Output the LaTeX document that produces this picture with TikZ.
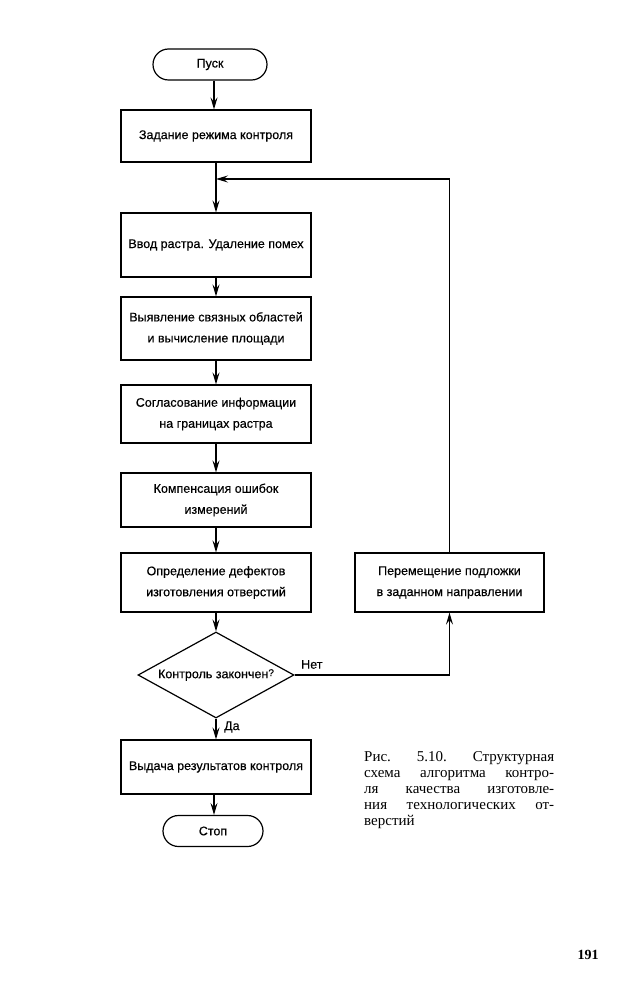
\documentclass[tikz,border=0pt]{standalone}
\usepackage{fontspec}
\setmainfont{Liberation Sans}
\newfontface\boxfont{Liberation Sans}[FakeBold=0.4]
\newfontfamily\capfont{Liberation Serif}
\usetikzlibrary{shapes.geometric,arrows.meta}
\begin{document}
\begin{tikzpicture}[x=1pt,y=-1pt,
  every node/.style={font=\boxfont\fontsize{12.5}{21}\selectfont},
  proc/.style={draw, line width=1.2pt, minimum width=190pt, align=center, inner sep=0pt},
  term/.style={draw, line width=1.2pt, rounded corners=15.5pt, minimum height=31pt, inner sep=0pt},
  decis/.style={draw, line width=1.2pt, shape=diamond, aspect=1.81, minimum width=156pt, minimum height=86pt, inner sep=0pt},
  conn/.style={line width=1.2pt},
  flow/.style={conn, -{Stealth[length=12pt,width=7pt,inset=4.5pt]}},
  lbl/.style={inner sep=0pt}]
\useasboundingbox (0,0) rectangle (640,1000);
\fill[white] (0,0) rectangle (640,1000);

\node[term, minimum width=114pt] (start) at (210,64.5) {Пуск};
\node[proc, minimum height=52pt] (b1) at (216,136) {Задание режима контроля};
\node[proc, minimum height=64pt] (b2) at (216,245) {Ввод растра. Удаление помех};
\node[proc, minimum height=63pt] (b3) at (216,328.5) {Выявление связных областей\\и вычисление площади};
\node[proc, minimum height=58pt] (b4) at (216,414) {Согласование информации\\на границах растра};
\node[proc, minimum height=54pt] (b5) at (216,500) {Компенсация ошибок\\измерений};
\node[proc, minimum height=59pt] (b6) at (216,582.5) {Определение дефектов\\изготовления отверстий};
\node[decis] (dia) at (216,675) {Контроль закончен\raisebox{2pt}{\fontsize{10}{10}\selectfont ?}};
\node[proc, minimum height=54pt] (b8) at (216,767) {Выдача результатов контроля};
\node[term, minimum width=100pt] (stop) at (213,831) {Стоп};
\node[proc, minimum height=59pt, minimum width=189pt] (b7) at (449.5,582.5) {Перемещение подложки\\в заданном направлении};

\coordinate (fb) at (216,179);

\draw[flow] (start.south -| 214,0) -- (b1.north -| 214,0);
\draw[flow] (b1) -- (b2);
\draw[flow] (b2) -- (b3);
\draw[flow] (b3) -- (b4);
\draw[flow] (b4) -- (b5);
\draw[flow] (b5) -- (b6);
\draw[flow] (b6) -- (dia.north);
\draw[flow] (dia.south) -- (b8.north);
\draw[flow] (b8.south -| 214,0) -- (stop.north -| 214,0);
\draw[flow] (dia.east) -| (b7.south);
\draw[flow] (b7.north) |- (fb);

\node[lbl, anchor=south west] (net) at (301,669) {Нет};
\node[lbl, anchor=west] (da) at (224,727) {Да};

\node[anchor=north west, inner sep=0pt, text width=190pt, align=justify,
      font=\capfont\fontsize{15}{16}\selectfont] (cap) at (364,751)
  {Рис.~~5.10.~~Структурная\linebreak схема алгоритма контро-\linebreak ля качества изготовле-\linebreak ния технологических от-\linebreak верстий};

\node[inner sep=0pt, font=\capfont\bfseries\fontsize{14}{14}\selectfont] (pg) at (588,955) {191};
\end{tikzpicture}
\end{document}
